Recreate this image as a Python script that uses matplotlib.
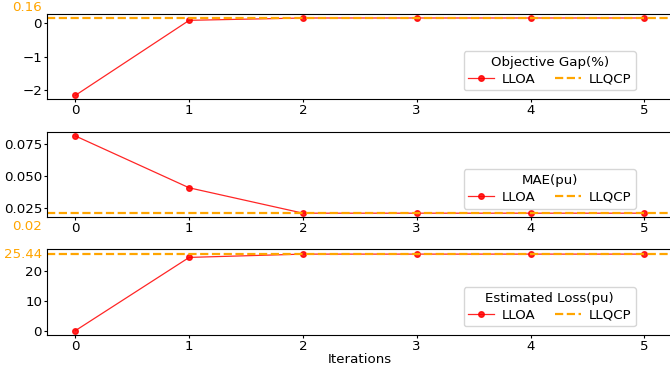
import numpy as np
import matplotlib
matplotlib.use("Agg")
import matplotlib.pyplot as plt

iterations = [0, 1, 2, 3, 4, 5]

gap_lloa = [-2.16, 0.09, 0.16, 0.16, 0.16, 0.16]
gap_llqcp = 0.16

mae_lloa = [0.081, 0.0405, 0.0207, 0.0207, 0.0207, 0.0207]
mae_llqcp = 0.0205

loss_lloa = [0.05, 24.4, 25.5, 25.5, 25.5, 25.5]
loss_llqcp = 25.44

titles = ["Objective Gap(%)", "MAE(pu)", "Estimated Loss(pu)"]
ref_labels = ["0.16", "0.02", "25.44"]

plt.rcParams["font.size"] = 9.6

fig = plt.figure(figsize=(6.7, 3.68), dpi=100)
# axes boxes in figure fraction, right edge runs just past the canvas
boxes = [
    [0.0701, 0.731, 0.934, 0.231],
    [0.0701, 0.4103, 0.934, 0.231],
    [0.0701, 0.0897, 0.934, 0.2337],
]
ylims = [(-2.27, 0.28), (0.0177, 0.0841), (-1.4, 27.2)]
label_offsets = [(3, "bottom"), (-5, "top"), (0, "center")]

series = [
    (gap_lloa, gap_llqcp),
    (mae_lloa, mae_llqcp),
    (loss_lloa, loss_llqcp),
]

for i, (lloa, llqcp) in enumerate(series):
    ax = fig.add_axes(boxes[i])
    ax.plot(iterations, lloa, color="red", marker="o", markersize=4,
            linewidth=0.9, alpha=0.85, label="LLOA")
    ax.axhline(llqcp, color="orange", linestyle="--", linewidth=1.6,
               label="LLQCP")
    ax.set_xlim(-0.25, 5.25)
    ax.set_ylim(*ylims[i])
    ax.set_xticks(iterations)
    ax.tick_params(length=2.5, pad=1)
    dy, va = label_offsets[i]
    ax.annotate(ref_labels[i], xy=(0, llqcp), xycoords=ax.get_yaxis_transform(),
                xytext=(-3.6, dy), textcoords="offset points",
                ha="right", va=va, color="orange")
    ax.legend(title=titles[i], ncol=2, loc="lower right",
              bbox_to_anchor=(0.941, 0.1), borderaxespad=0,
              handlelength=1.9, handletextpad=0.6, columnspacing=1.5,
              borderpad=0.35, labelspacing=0.3)
    if i == 2:
        ax.set_xlabel("Iterations", labelpad=0)

fig.savefig("out.png", dpi=100)
